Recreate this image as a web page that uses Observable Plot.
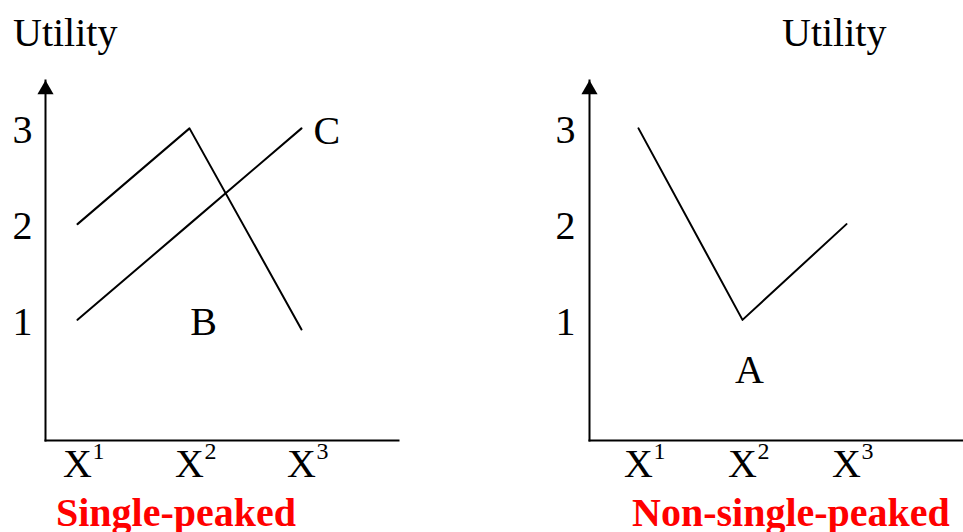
<!DOCTYPE html>
<html>
<head>
<meta charset="utf-8">
<script src="https://cdn.jsdelivr.net/npm/d3@7"></script>
<script src="https://cdn.jsdelivr.net/npm/@observablehq/plot@0.6"></script>
<style>
  html, body { margin: 0; padding: 0; background: white; }
  #wrap { position: relative; width: 963px; height: 532px; overflow: hidden; background: white; font-family: "Liberation Serif", serif; }
  .panel { position: absolute; top: 0; }
  .title { position: absolute; font-size: 40px; line-height: 40px; color: black; white-space: nowrap; }
  .cap { position: absolute; font-size: 40px; line-height: 40px; color: #ff0000; font-weight: bold; white-space: nowrap; }
</style>
</head>
<body>
<div id="wrap">
  <div class="panel" id="left" style="left:0px"></div>
  <div class="panel" id="right" style="left:481px"></div>
  <div class="title" style="left:13px; top:13px">Utility</div>
  <div class="title" style="left:782px; top:13px">Utility</div>
  <div class="cap" style="left:56px; top:493px">Single-peaked</div>
  <div class="cap" style="left:632px; top:493px">Non-single-peaked</div>
</div>
<script>
// Alternatives on the x axis
const options = ["X1", "X2", "X3"];
// Left panel (single-peaked) utilities
const utilityB = [2, 3, 0.9];
const utilityC = [1, 2, 3];
// Right panel (non-single-peaked) utilities
const utilityA = [3, 1, 2];
const yTicks = [1, 2, 3];

const rows = (name, vals) => options.map((x, i) => ({series: name, x, y: vals[i]}));

function panel({width, marginLeft, marginRight, xRange, lines, labels, tickPad}) {
  return Plot.plot({
    width, height: 532,
    marginLeft, marginRight, marginTop: 80, marginBottom: 92,
    style: {fontFamily: "Liberation Serif", fontSize: "40px", background: "white", color: "black", overflow: "visible"},
    x: {type: "point", domain: options, range: xRange, padding: 0, axis: null},
    y: {domain: [-0.26, 3.5], axis: null},
    marks: [
      Plot.frame({anchor: "left", stroke: "black", strokeWidth: 2}),
      Plot.frame({anchor: "bottom", stroke: "black", strokeWidth: 2}),
      Plot.dot([0], {frameAnchor: "top-left", symbol: "triangle", r: 6, fill: "black", stroke: "none", dy: 9}),
      Plot.axisY({ticks: yTicks, tickFormat: d => String(d), label: null, tickSize: 0, tickPadding: tickPad, fontSize: 40, dy: 2}),
      Plot.axisX({tickFormat: d => d[0], label: null, tickSize: 0, tickPadding: 8, fontSize: 40}),
      Plot.axisX({tickFormat: d => d.slice(1), label: null, tickSize: 0, tickPadding: 1, fontSize: 24, textAnchor: "start", dx: 15}),
      ...lines.map(l => Plot.line(l, {x: "x", y: "y", stroke: "black", strokeWidth: 2})),
      ...labels
    ]
  });
}

const leftPlot = panel({
  width: 481, marginLeft: 45, marginRight: 83, xRange: [77, 301], tickPad: 13,
  lines: [rows("B", utilityB), rows("C", utilityC)],
  labels: [
    Plot.text([{x: options[2], y: utilityC[2], t: "C"}], {x: "x", y: "y", text: "t", textAnchor: "start", dx: 12, dy: 3, fontSize: 40}),
    Plot.text([{x: options[1], y: 1, t: "B"}], {x: "x", y: "y", text: "t", dx: 14, dy: 2, fontSize: 40})
  ]
});
const rightPlot = panel({
  width: 482, marginLeft: 108, marginRight: 0, xRange: [156, 365], tickPad: 14,
  lines: [rows("A", utilityA)],
  labels: [
    Plot.text([{x: options[1], y: 0.5, t: "A"}], {x: "x", y: "y", text: "t", dx: 7, dy: 2, fontSize: 40})
  ]
});
document.getElementById("left").appendChild(leftPlot);
document.getElementById("right").appendChild(rightPlot);
</script>
</body>
</html>
